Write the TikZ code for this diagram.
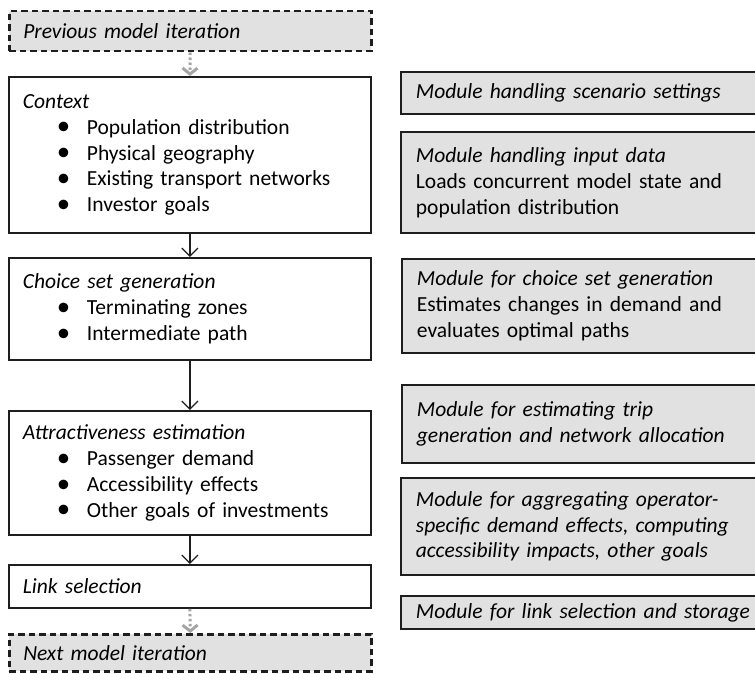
\documentclass[tikz,border=0pt]{standalone}
\usepackage{fontspec}
\setmainfont{Carlito}
\usepackage{graphicx}
\usetikzlibrary{arrows.meta}
\definecolor{boxgray}{RGB}{225,225,225}
\definecolor{edgegray}{RGB}{30,30,30}
\definecolor{flowgray}{RGB}{165,165,165}
\newcommand\bodyfont{\fontsize{21.6}{26}\selectfont}
\newcommand\bul{\hspace*{34bp}\makebox[30bp][l]{\raisebox{-0.6bp}{\scalebox{1.25}{\textbullet}}}}
\tikzset{
  stagebox/.style={draw=edgegray, line width=1.8bp, fill=white, anchor=north west,
    text width=334bp, inner xsep=14bp, inner ysep=0pt, align=left, font=\bodyfont},
  iterbox/.style={stagebox, fill=boxgray, dash pattern=on 6.5bp off 4bp, line width=2.5bp},
  modbox/.style={draw=edgegray, line width=1.8bp, fill=boxgray, anchor=north west,
    text width=345bp, inner xsep=15bp, inner ysep=0pt, align=left, font=\bodyfont},
  flow/.style={draw=edgegray, line width=1.3bp, -{Straight Barb[length=8bp,width=16bp]}},
  iterflow/.style={draw=flowgray, line width=3bp, dash pattern=on 2.5bp off 2.5bp,
    -{Straight Barb[length=6bp,width=15bp,line width=3bp]}}
}
\begin{document}
\begin{tikzpicture}[x=1bp,y=-1bp]
\useasboundingbox (0,0) rectangle (755,674);
\clip (0,0) rectangle (755,674);

% workflow stages
\node[iterbox, minimum height=40bp] (prev) at (8,10) {\textit{Previous model iteration}};
\node[stagebox, minimum height=156bp] (ctx) at (8,76) {\textit{Context}\\
  \bul Population distribution\\
  \bul Physical geography\\
  \bul Existing transport networks\\
  \bul Investor goals};
\node[stagebox, minimum height=102bp] (choice) at (8,257) {\textit{Choice set generation}\\
  \bul Terminating zones\\
  \bul Intermediate path};
\node[stagebox, minimum height=124bp] (attr) at (8,410) {\textit{Attractiveness estimation}\\
  \bul Passenger demand\\
  \bul Accessibility effects\\
  \bul Other goals of investments};
\node[stagebox, minimum height=43bp] (link) at (8,564) {\textit{Link selection}};
\node[iterbox, minimum height=37bp] (next) at (8,633) {\textit{Next model iteration}};

% connectors between stages
\draw[iterflow] (prev.south) -- (ctx.north);
\draw[flow] (ctx.south) -- (choice.north);
\draw[flow] (choice.south) -- (attr.north);
\draw[flow] (attr.south) -- (link.north);
\draw[iterflow] (link.south) -- (next.north);

% software modules
\node[modbox, minimum height=42bp] (m1) at (400,71) {\textit{Module handling scenario settings}};
\node[modbox, minimum height=101bp] (m2) at (400,131) {\textit{Module handling input data}\\
  Loads concurrent model state and\\ population distribution};
\node[modbox, minimum height=94bp] (m3) at (401,258) {\textit{Module for choice set generation}\\
  Estimates changes in demand and\\ evaluates optimal paths};
\node[modbox, minimum height=78bp] (m4) at (401,384) {\textit{Module for estimating trip}\\
  \textit{generation and network allocation}};
\node[modbox, minimum height=97bp] (m5) at (400,477) {\textit{Module for aggregating operator-}\\
  \textit{specific demand effects, computing}\\
  \textit{accessibility impacts, other goals}};
\node[modbox, minimum height=33bp] (m6) at (400,595) {\textit{Module for link selection and storage}};
\end{tikzpicture}
\end{document}
